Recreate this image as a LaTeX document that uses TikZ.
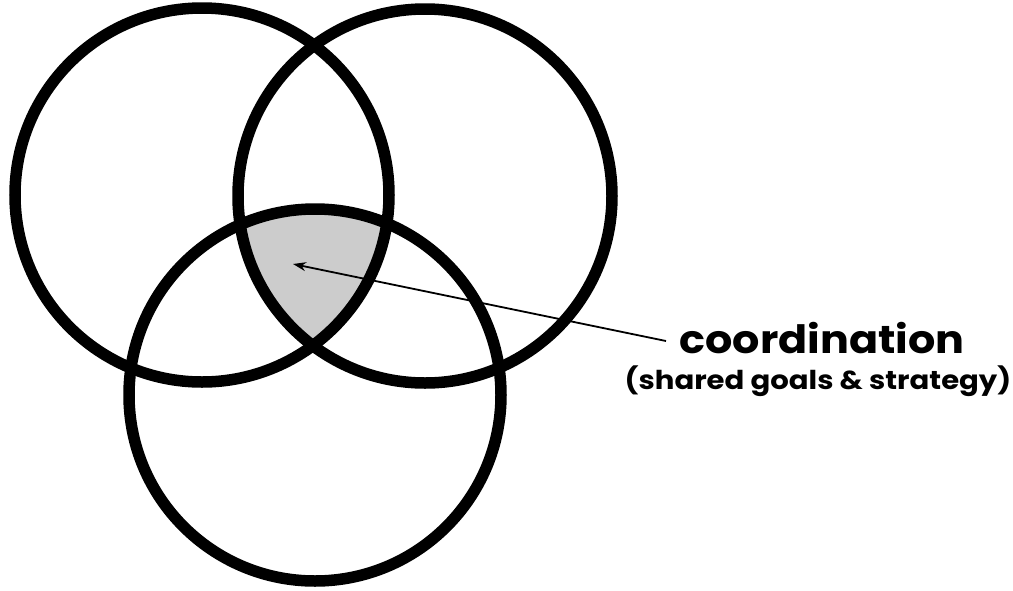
\documentclass[tikz,border=0pt]{standalone}
\usepackage{fontspec}
\usepackage{graphicx}
\setmainfont{Poppins}
\usetikzlibrary{arrows.meta}
\tikzset{
  ring/.style={draw=black, line width=11.5pt},
  pointer/.style={draw=black, line width=1.8pt, -{Stealth[length=13pt,width=9pt]}},
  bigtext/.style={font=\bfseries\fontsize{39}{42}\selectfont, inner sep=0pt, anchor=base},
  smalltext/.style={font=\bfseries\fontsize{26}{28}\selectfont, inner sep=0pt, anchor=base}
}
\begin{document}
\begin{tikzpicture}[x=1pt,y=-1pt]
\useasboundingbox (0,0) rectangle (1013,590);
\begin{scope}
  \clip (202,195) circle[radius=187];
  \clip (425,196) circle[radius=187];
  \fill[black!20] (315,395) circle[radius=186];
\end{scope}
\draw[ring] (202,195) circle[radius=187];
\draw[ring] (425,196) circle[radius=187];
\draw[ring] (315,395) circle[radius=186];
\node[bigtext] (coord) at (822,353) {\scalebox{1.1}[1]{coordination}};
\node[smalltext] (shared) at (818,389) {\scalebox{1.12}[1]{(shared goals \& strategy)}};
\coordinate (tip) at (293,264);
\coordinate (tail) at (666,341);
\draw[pointer] (tail) -- (tip);
\end{tikzpicture}
\end{document}
